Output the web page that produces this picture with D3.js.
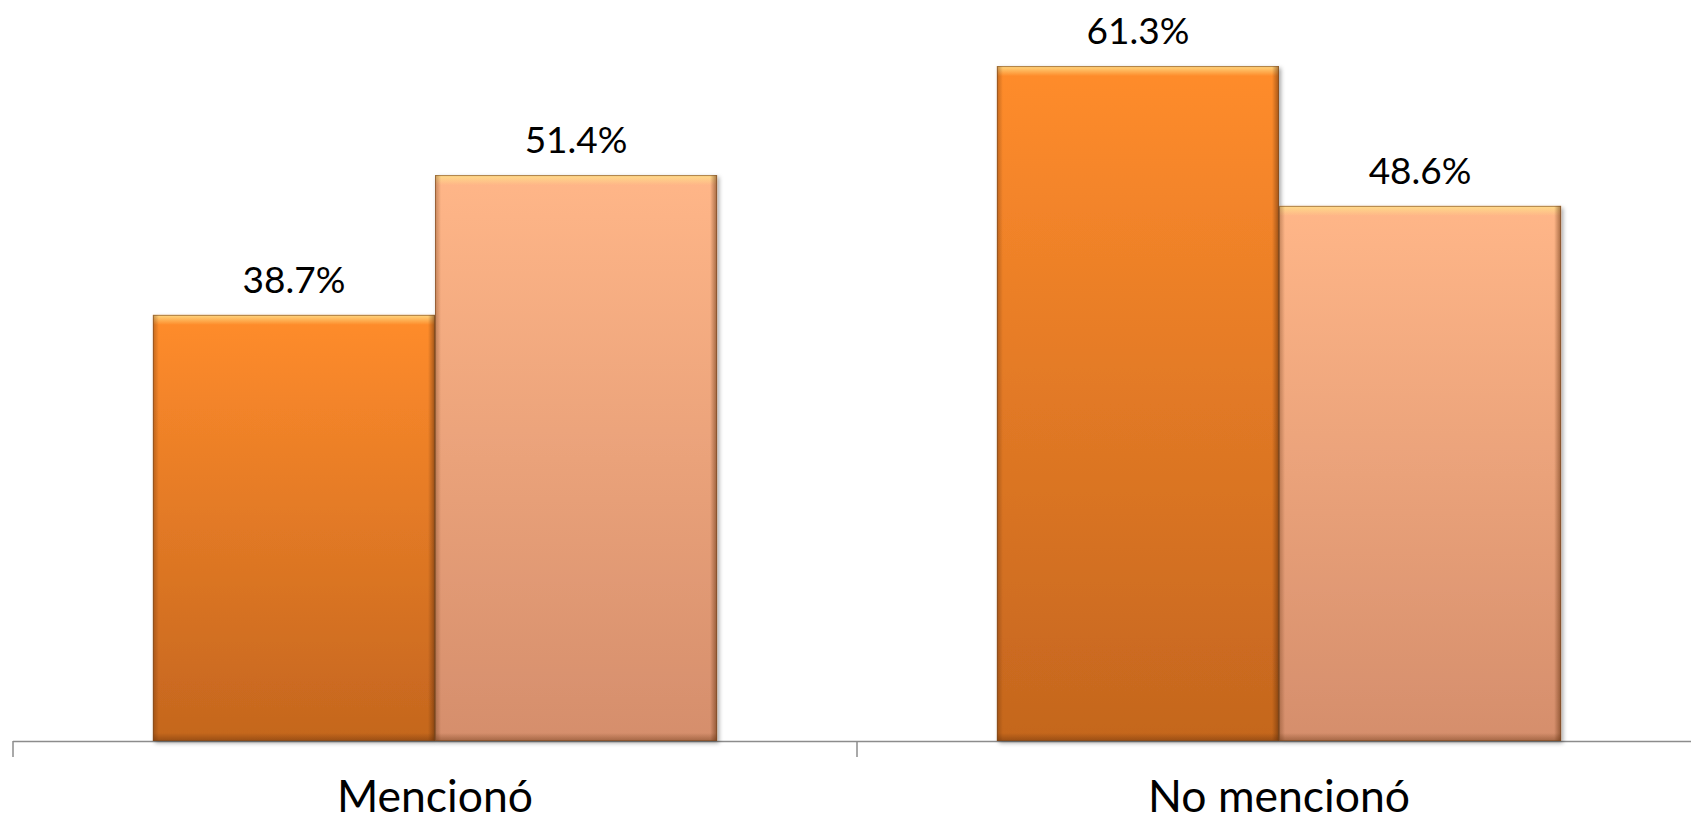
<!DOCTYPE html>
<html><head><meta charset="utf-8">
<script src="https://cdn.jsdelivr.net/npm/d3@7"></script>
<style>html,body{margin:0;padding:0;background:#fff;overflow:hidden}</style>
</head><body>
<svg id="chart" width="1691" height="822"></svg>
<script>
const categories = ["Mencionó", "No mencionó"];
const seriesNames = ["Serie 1", "Serie 2"];
const series1 = [38.7, 61.3];
const series2 = [51.4, 48.6];
const valueLabels1 = ["38.7%", "61.3%"];
const valueLabels2 = ["51.4%", "48.6%"];

const svg = d3.select("#chart");
const W = 1691, H = 822;
const baseY = 741;

const x = d3.scaleBand().domain(categories).range([13, 1701]).paddingInner(0).paddingOuter(0);
const xs = d3.scaleBand().domain(seriesNames).range([0, x.bandwidth()]).paddingInner(0).paddingOuter(0.496);
const y = d3.scaleLinear().domain([0, 67.3]).range([baseY, 0]);

const defs = svg.append("defs");
const gradDefs = [
  {id: "g0", top: "#FF8C2C", bottom: "#C4661E"},
  {id: "g1", top: "#FFB688", bottom: "#D58E6C"}
];
gradDefs.forEach(g => {
  const lg = defs.append("linearGradient").attr("id", g.id).attr("x1", 0).attr("y1", 0).attr("x2", 0).attr("y2", 1);
  lg.append("stop").attr("offset", "0%").attr("stop-color", g.top);
  lg.append("stop").attr("offset", "100%").attr("stop-color", g.bottom);
});
const f = defs.append("filter").attr("id", "sh").attr("x", "-5%").attr("y", "-5%").attr("width", "115%").attr("height", "115%");
f.append("feDropShadow").attr("dx", 2).attr("dy", 2).attr("stdDeviation", 2).attr("flood-color", "#000").attr("flood-opacity", 0.35);

const hl = defs.append("linearGradient").attr("id", "hl").attr("x1", 0).attr("y1", 0).attr("x2", 0).attr("y2", 1);
hl.append("stop").attr("offset", "0%").attr("stop-color", "#FFE08A").attr("stop-opacity", 0.9);
hl.append("stop").attr("offset", "100%").attr("stop-color", "#FFE08A").attr("stop-opacity", 0);
const sideR = defs.append("linearGradient").attr("id", "sr").attr("x1", 0).attr("y1", 0).attr("x2", 1).attr("y2", 0);
sideR.append("stop").attr("offset", "0%").attr("stop-color", "#5a2a08").attr("stop-opacity", 0);
sideR.append("stop").attr("offset", "100%").attr("stop-color", "#5a2a08").attr("stop-opacity", 0.55);
const sideL = defs.append("linearGradient").attr("id", "sl").attr("x1", 0).attr("y1", 0).attr("x2", 1).attr("y2", 0);
sideL.append("stop").attr("offset", "0%").attr("stop-color", "#5a2a08").attr("stop-opacity", 0.35);
sideL.append("stop").attr("offset", "100%").attr("stop-color", "#5a2a08").attr("stop-opacity", 0);
const bot = defs.append("linearGradient").attr("id", "bt").attr("x1", 0).attr("y1", 0).attr("x2", 0).attr("y2", 1);
bot.append("stop").attr("offset", "0%").attr("stop-color", "#5a2a08").attr("stop-opacity", 0);
bot.append("stop").attr("offset", "100%").attr("stop-color", "#5a2a08").attr("stop-opacity", 0.4);

const data = [];
categories.forEach((c, i) => {
  data.push({cat: c, s: seriesNames[0], v: series1[i], label: valueLabels1[i], grad: "g0"});
  data.push({cat: c, s: seriesNames[1], v: series2[i], label: valueLabels2[i], grad: "g1"});
});

// axis
const axisG = svg.append("g");
axisG.append("line").attr("x1", x.range()[0]).attr("x2", W).attr("y1", baseY + 0.5).attr("y2", baseY + 0.5)
  .attr("stroke", "#8c8c8c").attr("stroke-width", 1.5);
const boundaries = categories.map(c => x(c)).concat([x.range()[1]]);
axisG.selectAll(".tk").data(boundaries).enter().append("line")
  .attr("x1", d => d).attr("x2", d => d).attr("y1", baseY).attr("y2", baseY + 16)
  .attr("stroke", "#8c8c8c").attr("stroke-width", 1.5);

const bars = svg.append("g").selectAll("g.bar").data(data).enter().append("g").attr("class", "bar");
bars.each(function(d) {
  const g = d3.select(this);
  const bx = x(d.cat) + xs(d.s), bw = xs.bandwidth(), by = y(d.v), bh = baseY - y(d.v);
  g.append("rect").attr("x", bx).attr("y", by).attr("width", bw).attr("height", bh)
    .attr("fill", `url(#${d.grad})`).attr("filter", "url(#sh)");
  g.append("rect").attr("x", bx).attr("y", by).attr("width", bw).attr("height", 10).attr("fill", "url(#hl)");
  g.append("rect").attr("x", bx + bw - 7).attr("y", by).attr("width", 7).attr("height", bh).attr("fill", "url(#sr)");
  g.append("rect").attr("x", bx).attr("y", by).attr("width", 6).attr("height", bh).attr("fill", "url(#sl)");
  g.append("rect").attr("x", bx).attr("y", baseY - 8).attr("width", bw).attr("height", 8).attr("fill", "url(#bt)");
  g.append("rect").attr("x", bx + 0.5).attr("y", by + 0.5).attr("width", bw - 1).attr("height", bh - 1)
    .attr("fill", "none").attr("stroke", "#7a4a22").attr("stroke-opacity", 0.6).attr("stroke-width", 1);
  g.append("text").attr("x", bx + bw / 2).attr("y", by - 22).attr("text-anchor", "middle")
    .attr("font-family", "Lato, 'Open Sans', sans-serif").attr("font-size", 37).attr("fill", "#000")
    .text(d.label);
});

svg.append("g").selectAll("text.cat").data(categories).enter().append("text")
  .attr("x", d => x(d) + x.bandwidth() / 2).attr("y", 812).attr("text-anchor", "middle")
  .attr("font-family", "Lato, 'Open Sans', sans-serif").attr("font-size", 44.5).attr("fill", "#000")
  .text(d => d);
</script>
</body></html>
